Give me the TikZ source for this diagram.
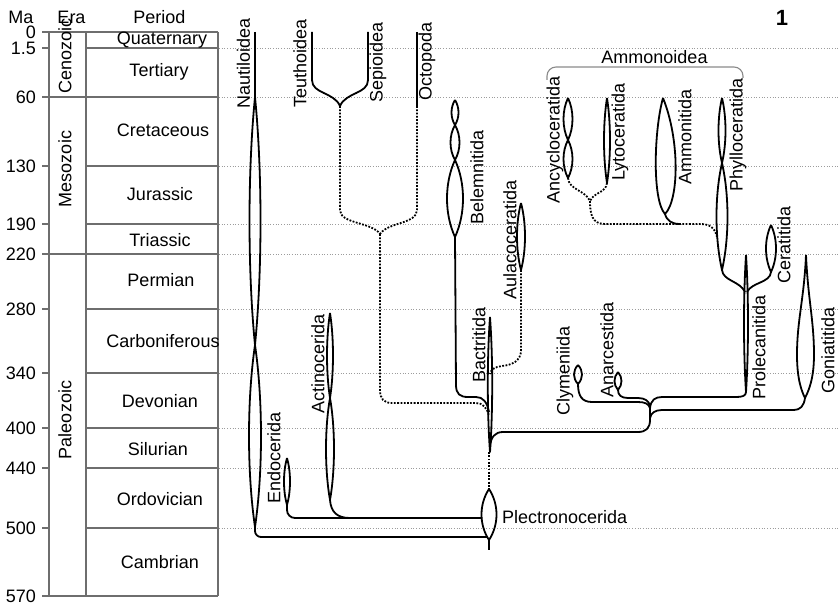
\documentclass[tikz,border=0pt]{standalone}
\usepackage{fontspec}
\setmainfont{Liberation Sans}
\definecolor{tablegray}{HTML}{6E6E6E}
\definecolor{gridgray}{HTML}{9C9C9C}
\definecolor{bracegray}{HTML}{8A8A8A}
% a pointed spindle between (x,y1) and (x,y2) with half-width w
\newcommand{\cladelens}[4]{%
  \draw[clade] (#1,#2)
    .. controls ({#1-1.333*#4},{#2+0.3*(#3-#2)}) and ({#1-1.333*#4},{#3-0.3*(#3-#2)}) .. (#1,#3)
    .. controls ({#1+1.333*#4},{#3-0.3*(#3-#2)}) and ({#1+1.333*#4},{#2+0.3*(#3-#2)}) .. (#1,#2);}
\begin{document}
\begin{tikzpicture}[x=1pt,y=-1pt,
  font=\fontsize{18}{21}\selectfont,
  frame/.style={draw=tablegray, line width=1.1pt},
  gridline/.style={draw=gridgray, line width=0.9pt, dash pattern=on 0.9pt off 1.8pt},
  clade/.style={draw=black, line width=1.8pt, line join=round},
  ghost/.style={draw=black, line width=1.8pt, dash pattern=on 1.8pt off 1.5pt},
  vlab/.style={rotate=90, anchor=east, inner sep=0pt},
  numlab/.style={anchor=east, inner sep=0pt},
  perlab/.style={anchor=base, inner sep=0pt},
  eralab/.style={rotate=90, inner sep=0pt},
  brace/.style={draw=bracegray, line width=1.1pt, rounded corners=9}]
\useasboundingbox (0,0) rectangle (839,607);

% ---- time grid across the tree ----
\foreach \y in {48,97,166,224,254,309,373,428,468,528}
  \draw[gridline] (219,\y) -- (839,\y);

% ---- time table ----
\draw[frame] (49,32) -- (49,596) (86,32) -- (86,596) (218,32) -- (218,596);
\foreach \y in {32,97,254,596} \draw[frame] (42,\y) -- (218,\y);
\foreach \y in {48,166,224,309,373,428,468,528} \draw[frame] (42,\y) -- (49,\y) (86,\y) -- (218,\y);

\node[perlab] (hma) at (21,24) {Ma};
\node[perlab] (hera) at (71.5,24) {Era};
\node[perlab] (hper) at (159.5,24) {Period};

\node[numlab] (m0) at (36,32.5) {0};
\node[numlab] (m1) at (36,48) {1.5};
\node[numlab] (m60) at (36,97) {60};
\node[numlab] (m130) at (36,166) {130};
\node[numlab] (m190) at (36,224) {190};
\node[numlab] (m220) at (36,254) {220};
\node[numlab] (m280) at (36,309) {280};
\node[numlab] (m340) at (36,373) {340};
\node[numlab] (m400) at (36,428) {400};
\node[numlab] (m440) at (36,468) {440};
\node[numlab] (m500) at (36,528) {500};
\node[numlab] (m570) at (36,596) {570};

\node[eralab] (ceno) at (65,56) {Cenozoic};
\node[eralab] (meso) at (65,169) {Mesozoic};
\node[eralab] (paleo) at (65,420) {Paleozoic};

\node[perlab] (pq) at (162,45) {Quaternary};
\node[perlab] (pt) at (159,77) {Tertiary};
\node[perlab] (pk) at (163,137) {Cretaceous};
\node[perlab] (pj) at (160,201) {Jurassic};
\node[perlab] (ptr) at (160,247) {Triassic};
\node[perlab] (pp) at (161,287) {Permian};
\node[perlab] (pc) at (163,347) {Carboniferous};
\node[perlab] (pd) at (160,407) {Devonian};
\node[perlab] (ps) at (158,455) {Silurian};
\node[perlab] (po) at (160,505) {Ordovician};
\node[perlab] (pcm) at (160,568) {Cambrian};

\node[inner sep=0pt, font=\fontsize{22}{24}\selectfont\bfseries] (fig) at (782,18) {1};

% ---- Nautiloidea and the early orders ----
\draw[clade] (255,32) -- (255,97);
\cladelens{255}{97}{345}{5.5}
\cladelens{255}{345}{527}{6}
\draw[clade, rounded corners=6] (255,527) -- (255,537) -- (487,537);
\cladelens{287}{458}{505}{3}
\draw[clade, rounded corners=8] (287,505) -- (287,518) -- (482,518);
\cladelens{330}{313}{398}{3}
\cladelens{330}{398}{500}{4}
\draw[clade] (330,500) .. controls (331,512) and (337,518) .. (350,518);

% ---- Plectronocerida and Bactritida ----
\cladelens{489}{489}{540}{7.5}
\draw[clade] (489,540) -- (489,550);
\draw[ghost] (489,452) -- (489,489);
\cladelens{490}{317}{452}{2.2}

% ---- coleoids ----
\cladelens{455}{100}{125}{3.5}
\cladelens{455}{125}{160}{4.5}
\cladelens{455}{160}{237}{8}
\draw[clade] (455,237) -- (456,385) .. controls (456,394) and (460,397) .. (468,397) -- (476,397) .. controls (483,397) and (487,402) .. (489,412);
\cladelens{521}{203}{270}{4}
\draw[ghost] (521,270) -- (521,350) .. controls (521,361) and (512,365) .. (502,366) .. controls (495,367) and (491,369) .. (490,374);
\draw[clade] (312,32) -- (312,80) .. controls (312,94) and (334,92) .. (340,106);
\draw[clade] (368,32) -- (368,80) .. controls (368,94) and (346,92) .. (340,106);
\draw[clade] (417,32) -- (417,106);
\draw[ghost] (340,106) -- (340,210) .. controls (340,224) and (372,222) .. (380,234);
\draw[ghost] (417,106) -- (417,210) .. controls (417,224) and (388,222) .. (380,234);
\draw[ghost] (380,234) -- (380,390) .. controls (380,399) and (384,403) .. (392,403) -- (476,403) .. controls (483,403) and (487,408) .. (489,416);

% ---- ammonoids ----
\draw[clade] (490,446) .. controls (491,437) and (495,432) .. (503,432) -- (638,432) .. controls (646,432) and (650,428) .. (650,420) -- (650,406);
\cladelens{578}{365}{384}{4}
\cladelens{618}{372}{390}{3.5}
\draw[clade] (578,384) .. controls (578,396) and (582,402) .. (592,402) -- (638,402) .. controls (645,402) and (649,404) .. (650,408);
\draw[clade] (618,390) .. controls (618,395) and (621,398) .. (628,398) -- (638,398) .. controls (645,398) and (649,401) .. (650,406);
\cladelens{746}{255}{392}{2}
\draw[clade] (746,392) .. controls (746,396) and (742,397) .. (736,397) -- (662,397) .. controls (655,397) and (651,400) .. (650,408);
\draw[clade] (806,255) .. controls (804,300) and (797,320) .. (797,355) .. controls (797,380) and (802,392) .. (805,398)
  .. controls (808,392) and (814,380) .. (814,355) .. controls (814,320) and (808,300) .. (806,255);
\draw[clade] (805,398) .. controls (804,406) and (800,410) .. (794,410) -- (662,410) .. controls (655,410) and (651,413) .. (650,418);
\cladelens{722}{98}{163}{3.5}
\cladelens{722}{163}{270}{5.5}
\cladelens{771}{225}{272}{5}
\draw[clade] (722,270) .. controls (723,281) and (740,281) .. (745,292);
\draw[clade] (771,272) .. controls (770,283) and (752,282) .. (747,292);
\cladelens{568}{98}{140}{4.5}
\cladelens{568}{140}{178}{4.5}
\cladelens{607}{98}{183}{3}
\draw[clade] (663,98) .. controls (654,130) and (652,200) .. (665,214) .. controls (679,200) and (680,140) .. (663,98);
\draw[clade] (665,214) .. controls (667,221) and (672,224) .. (680,224);
\draw[ghost] (568,178) .. controls (569,190) and (585,190) .. (590,201);
\draw[ghost] (607,183) .. controls (606,193) and (594,192) .. (590,201);
\draw[ghost] (590,201) .. controls (590,214) and (592,224) .. (605,224) -- (700,224) .. controls (710,224) and (715,228) .. (717,237);
\draw[brace] (547,80) -- (547,67) -- (743,67) -- (743,78);

% ---- names ----
\node[vlab] (lNau) at (243.5,18) {Nautiloidea};
\node[vlab] (lTeu) at (300,19) {Teuthoidea};
\node[vlab] (lSep) at (378,22) {Sepioidea};
\node[vlab] (lOct) at (427,22) {Octopoda};
\node[vlab] (lBel) at (477,130) {Belemnitida};
\node[vlab] (lAul) at (510,180) {Aulacoceratida};
\node[vlab] (lAnc) at (555,76) {Ancycloceratida};
\node[vlab] (lLyt) at (620,83) {Lytoceratida};
\node[vlab] (lAmm) at (685,89) {Ammonitida};
\node[vlab] (lPhy) at (738,78) {Phylloceratida};
\node[vlab] (lCer) at (784,206) {Ceratitida};
\node[vlab] (lPro) at (759,295) {Prolecanitida};
\node[vlab] (lGon) at (828,307) {Goniatitida};
\node[vlab] (lBac) at (479,307) {Bactritida};
\node[vlab] (lCly) at (565,326) {Clymeniida};
\node[vlab] (lAna) at (607,302) {Anarcestida};
\node[vlab] (lEnd) at (274,412) {Endocerida};
\node[vlab] (lAct) at (318,314) {Actinocerida};
\node[anchor=west, inner sep=0pt] (lPle) at (502,517.5) {Plectronocerida};
\node[anchor=base, inner sep=0pt] (lAmmo) at (654.5,64) {Ammonoidea};
\end{tikzpicture}
\end{document}
